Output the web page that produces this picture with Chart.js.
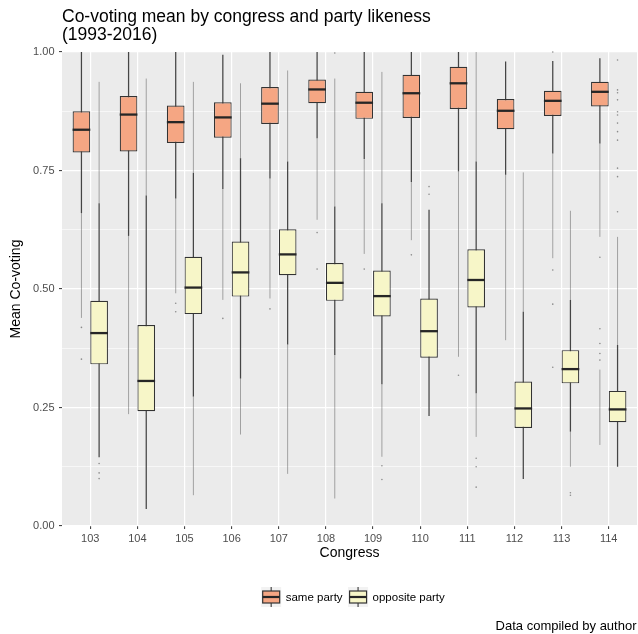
<!DOCTYPE html>
<html>
<head>
<meta charset="utf-8">
<title>Co-voting mean by congress and party likeness</title>
<script src="https://cdn.jsdelivr.net/npm/chart.js@4.4.1/dist/chart.umd.min.js"></script>
<style>
  html, body { margin: 0; padding: 0; background: #fff; }
  canvas { display: block; }
</style>
</head>
<body>
<canvas id="chart" width="638" height="634"></canvas>
<script>
;(function() {
  const FONT = "'Liberation Sans', Arial, Helvetica, sans-serif";

  const congresses = [103, 104, 105, 106, 107, 108, 109, 110, 111, 112, 113, 114];
  const legendLabels = ['same party', 'opposite party'];

  // same party: box stats per congress
  const sameQ1     = [0.788, 0.790, 0.808, 0.819, 0.848, 0.892, 0.859, 0.861, 0.880, 0.837, 0.865, 0.885];
  const sameMedian = [0.836, 0.868, 0.852, 0.862, 0.891, 0.921, 0.893, 0.913, 0.934, 0.876, 0.897, 0.916];
  const sameQ3     = [0.875, 0.907, 0.887, 0.894, 0.926, 0.942, 0.916, 0.952, 0.969, 0.901, 0.918, 0.937];
  const sameLower  = [0.660, 0.612, 0.691, 0.711, 0.733, 0.818, 0.774, 0.726, 0.748, 0.741, 0.786, 0.807];
  const sameUpper  = [1.000, 1.000, 1.000, 0.994, 1.000, 1.000, 1.000, 1.000, 1.000, 0.980, 0.981, 0.987];

  // opposite party
  const oppQ1     = [0.341, 0.242, 0.447, 0.484, 0.529, 0.475, 0.442, 0.355, 0.461, 0.207, 0.301, 0.219];
  const oppMedian = [0.407, 0.306, 0.503, 0.535, 0.573, 0.513, 0.485, 0.411, 0.519, 0.248, 0.331, 0.246];
  const oppQ3     = [0.475, 0.424, 0.568, 0.600, 0.626, 0.555, 0.539, 0.480, 0.584, 0.305, 0.371, 0.285];
  const oppLower  = [0.145, 0.036, 0.273, 0.311, 0.383, 0.361, 0.299, 0.232, 0.280, 0.099, 0.199, 0.125];
  const oppUpper  = [0.681, 0.697, 0.745, 0.776, 0.769, 0.674, 0.681, 0.667, 0.769, 0.452, 0.477, 0.382];

  // outliers: dense runs [congress, from, to] and single points [congress, value]
  const sameOutlierRuns = [
    [103, 0.660, 0.439], [104, 0.612, 0.236], [105, 0.691, 0.491], [106, 0.711, 0.477],
    [107, 0.733, 0.480], [108, 0.818, 0.646], [109, 0.774, 0.574], [110, 0.726, 0.603],
    [111, 0.748, 0.357], [112, 0.741, 0.392], [113, 0.786, 0.565], [114, 0.807, 0.610],
    [114, 0.330, 0.171],
  ];
  const sameOutlierDots = [
    [103, 0.419], [103, 0.352], [105, 0.470], [105, 0.452], [106, 0.438], [107, 0.458],
    [108, 0.619], [108, 0.542], [109, 0.542], [110, 0.572], [111, 0.318], [113, 1.000],
    [113, 0.540], [113, 0.468], [113, 0.335], [114, 0.567], [114, 0.416], [114, 0.385],
    [114, 0.364], [114, 0.350],
  ];
  const oppOutlierRuns = [
    [103, 0.681, 0.937], [104, 0.697, 0.944], [105, 0.273, 0.065], [105, 0.745, 0.937],
    [106, 0.311, 0.193], [106, 0.776, 0.934], [107, 0.383, 0.110], [107, 0.769, 0.961],
    [108, 0.361, 0.058], [108, 0.674, 0.944], [109, 0.299, 0.146], [109, 0.681, 0.958],
    [111, 0.280, 0.188], [111, 0.769, 1.000], [112, 0.452, 0.746], [113, 0.199, 0.125],
    [113, 0.477, 0.665], [114, 0.382, 0.610],
  ];
  const oppOutlierDots = [
    [103, 0.132], [103, 0.112], [103, 0.100], [108, 0.998], [109, 0.127], [109, 0.098],
    [110, 0.716], [110, 0.700], [111, 0.143], [111, 0.125], [111, 0.082], [113, 0.070],
    [113, 0.065], [114, 0.663], [114, 0.737], [114, 0.755], [114, 0.814], [114, 0.832],
    [114, 0.850], [114, 0.867], [114, 0.874], [114, 0.899], [114, 0.914], [114, 0.920],
    [114, 0.983],
  ];

  const SAME_FILL = '#F5A683';
  const OPP_FILL = '#F7F6C8';
  const LINE = '#333333';

  const series = [
    { median: sameMedian, lower: sameLower, upper: sameUpper, runs: sameOutlierRuns, dots: sameOutlierDots },
    { median: oppMedian, lower: oppLower, upper: oppUpper, runs: oppOutlierRuns, dots: oppOutlierDots },
  ];

  const vline = (ctx, x, y1, y2) => {
    ctx.beginPath();
    ctx.moveTo(x, y1);
    ctx.lineTo(x, y2);
    ctx.stroke();
  };

  const panelBg = {
    id: 'panelBg',
    beforeDraw(chart) {
      const { ctx, chartArea: a } = chart;
      ctx.save();
      ctx.fillStyle = '#EBEBEB';
      ctx.fillRect(a.left, a.top, a.right - a.left, a.bottom - a.top);
      ctx.restore();
    }
  };

  // whiskers + outliers behind the boxes, medians on top
  const boxParts = {
    id: 'boxParts',
    beforeDatasetsDraw(chart) {
      const { ctx, scales: { y } } = chart;
      ctx.save();
      series.forEach((s, di) => {
        const bars = chart.getDatasetMeta(di).data;
        const barAt = c => bars[congresses.indexOf(c)];

        ctx.strokeStyle = 'rgba(70,70,70,0.45)';
        ctx.lineWidth = 1;
        s.runs.forEach(([c, a, b]) => vline(ctx, barAt(c).x, y.getPixelForValue(a), y.getPixelForValue(b)));

        ctx.strokeStyle = 'rgba(40,40,40,0.85)';
        ctx.lineWidth = 1.25;
        bars.forEach((bar, i) => vline(ctx, bar.x, y.getPixelForValue(s.lower[i]), y.getPixelForValue(s.upper[i])));
      });
      ctx.restore();
    },
    afterDatasetsDraw(chart) {
      const { ctx, scales: { y } } = chart;
      ctx.save();
      series.forEach((s, di) => {
        const bars = chart.getDatasetMeta(di).data;
        const barAt = c => bars[congresses.indexOf(c)];

        ctx.strokeStyle = '#262626';
        ctx.lineWidth = 2.3;
        bars.forEach((bar, i) => {
          const py = y.getPixelForValue(s.median[i]);
          ctx.beginPath();
          ctx.moveTo(bar.x - bar.width / 2, py);
          ctx.lineTo(bar.x + bar.width / 2, py);
          ctx.stroke();
        });

        ctx.fillStyle = 'rgba(60,60,60,0.55)';
        s.dots.forEach(([c, v]) => {
          ctx.beginPath();
          ctx.arc(barAt(c).x, y.getPixelForValue(v), 0.8, 0, Math.PI * 2);
          ctx.fill();
        });
      });
      ctx.restore();
    }
  };

  const drawKey = (ctx, x, top, fill) => {
    ctx.fillStyle = '#F2F2F2';
    ctx.fillRect(x, top, 20, 20);
    ctx.strokeStyle = 'rgba(40,40,40,0.85)';
    ctx.lineWidth = 1.2;
    vline(ctx, x + 10, top, top + 20);
    ctx.fillStyle = fill;
    ctx.fillRect(x + 1.5, top + 4, 17, 12);
    ctx.strokeStyle = LINE;
    ctx.lineWidth = 1.2;
    ctx.strokeRect(x + 1.5, top + 4, 17, 12);
    ctx.strokeStyle = '#262626';
    ctx.lineWidth = 2.2;
    ctx.beginPath();
    ctx.moveTo(x + 1.5, top + 10);
    ctx.lineTo(x + 18.5, top + 10);
    ctx.stroke();
  };

  const annotations = {
    id: 'annotations',
    afterDraw(chart) {
      const { ctx, chartArea: a } = chart;
      ctx.save();

      ctx.fillStyle = '#000';
      ctx.textAlign = 'left';
      ctx.textBaseline = 'alphabetic';
      ctx.font = `17.5px ${FONT}`;
      ctx.fillText('Co-voting mean by congress and party likeness', a.left, 21.5);
      ctx.fillText('(1993-2016)', a.left, 39.5);

      // legend at the bottom
      ctx.font = `11.5px ${FONT}`;
      const fills = [SAME_FILL, OPP_FILL];
      const widths = legendLabels.map(t => ctx.measureText(t).width);
      const total = widths.reduce((sum, w) => sum + 20 + 4.5 + w, 0) + 5.5;
      let x = (a.left + a.right) / 2 + 3.5 - total / 2;
      const top = 587;
      legendLabels.forEach((label, i) => {
        drawKey(ctx, x, top, fills[i]);
        ctx.fillStyle = '#000';
        ctx.textBaseline = 'middle';
        ctx.fillText(label, x + 24.5, top + 10.5);
        x += 20 + 4.5 + widths[i] + 5.5;
      });

      ctx.font = `13px ${FONT}`;
      ctx.textAlign = 'right';
      ctx.textBaseline = 'alphabetic';
      ctx.fillStyle = '#000';
      ctx.fillText('Data compiled by author', 636.5, 630);
      ctx.restore();
    }
  };

  const ctx = document.getElementById('chart').getContext('2d');
  new Chart(ctx, {
    type: 'bar',
    data: {
      datasets: [{
        label: legendLabels[0],
        data: congresses.map((c, i) => ({ x: c, y: [sameQ1[i], sameQ3[i]] })),
        backgroundColor: SAME_FILL,
      }, {
        label: legendLabels[1],
        data: congresses.map((c, i) => ({ x: c, y: [oppQ1[i], oppQ3[i]] })),
        backgroundColor: OPP_FILL,
      }]
    },
    options: {
      responsive: false,
      animation: false,
      layout: { padding: { top: 52, right: 1, bottom: 68, left: 0 } },
      datasets: {
        bar: {
          borderColor: LINE,
          borderWidth: 1.2,
          borderSkipped: false,
          categoryPercentage: 0.75,
          barPercentage: 1,
        }
      },
      plugins: {
        legend: { display: false },
        title: { display: false },
        tooltip: { enabled: false },
      },
      scales: {
        x: {
          type: 'linear',
          min: 102.4,
          max: 114.6,
          offset: false,
          afterBuildTicks: axis => { axis.ticks = congresses.map(value => ({ value })); },
          afterFit: axis => { axis.height = 40; },
          border: { display: false },
          grid: { offset: false, color: '#fff', lineWidth: 1.2, tickColor: LINE, tickLength: 3, tickWidth: 1 },
          ticks: {
            color: '#4D4D4D',
            font: { family: FONT, size: 11 },
            padding: 3,
            maxRotation: 0,
            autoSkip: false,
            callback: v => String(v),
          },
          title: {
            display: true,
            text: 'Congress',
            color: '#000',
            font: { family: FONT, size: 14 },
            padding: { top: 0, bottom: 4 },
          },
        },
        y: {
          min: 0,
          max: 1,
          afterFit: axis => { axis.width = 62; },
          border: { display: false },
          grid: {
            color: '#fff',
            lineWidth: c => c.index % 2 ? 0.6 : 1.2,
            tickColor: c => c.index % 2 ? 'rgba(0,0,0,0)' : LINE,
            tickLength: 3,
            tickWidth: 1,
          },
          ticks: {
            stepSize: 0.125,
            autoSkip: false,
            color: '#4D4D4D',
            font: { family: FONT, size: 11 },
            padding: 4.5,
            callback: (v, i) => i % 2 ? '' : v.toFixed(2),
          },
          title: {
            display: true,
            text: 'Mean Co-voting',
            color: '#000',
            font: { family: FONT, size: 14 },
            padding: { top: 8, bottom: 0 },
          },
        }
      }
    },
    plugins: [panelBg, boxParts, annotations],
  });
})();
</script>
</body>
</html>
